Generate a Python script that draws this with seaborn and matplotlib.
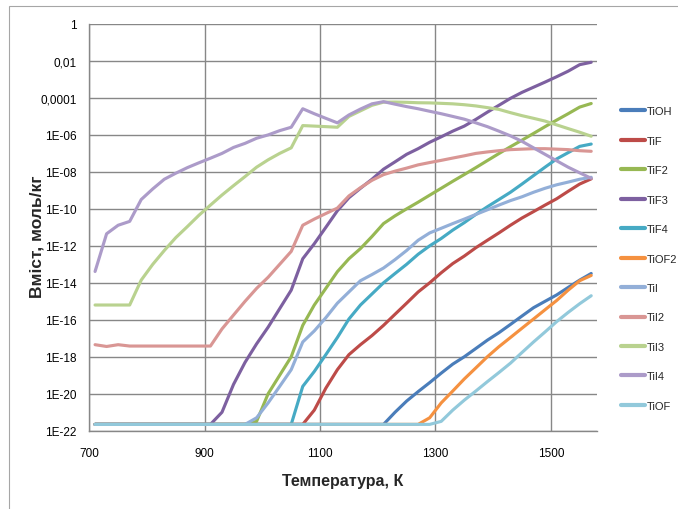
"""
Вміст титанових сполук у газовій фазі залежно від температури
"""

import numpy as np
import pandas as pd
import matplotlib
matplotlib.use('Agg')
import matplotlib.pyplot as plt
from matplotlib.ticker import FixedLocator, FuncFormatter
from matplotlib.patches import Rectangle
from matplotlib.lines import Line2D
import seaborn as sns

# Дані (моль/кг)
temperature = [710, 730, 750, 770, 790, 810, 830, 850, 870, 890,
               910, 930, 950, 970, 990, 1010, 1030, 1050, 1070, 1090,
               1110, 1130, 1150, 1170, 1190, 1210, 1230, 1250, 1270, 1290,
               1310, 1330, 1350, 1370, 1390, 1410, 1430, 1450, 1470, 1490,
               1510, 1530, 1550, 1570]

ti_oh = [2.2e-22, 2.2e-22, 2.2e-22, 2.2e-22, 2.2e-22, 2.2e-22, 2.2e-22, 2.2e-22, 2.2e-22, 2.2e-22,
         2.2e-22, 2.2e-22, 2.2e-22, 2.2e-22, 2.2e-22, 2.2e-22, 2.2e-22, 2.2e-22, 2.2e-22, 2.2e-22,
         2.2e-22, 2.2e-22, 2.2e-22, 2.2e-22, 2.2e-22, 2.2e-22, 1.0e-21, 4.0e-21, 1.3e-20, 4.0e-20,
         1.3e-19, 4.0e-19, 1.0e-18, 2.8e-18, 7.9e-18, 2.0e-17, 5.6e-17, 1.6e-16, 4.5e-16, 1.0e-15,
         2.2e-15, 5.6e-15, 1.4e-14, 3.2e-14]
ti_f = [2.2e-22, 2.2e-22, 2.2e-22, 2.2e-22, 2.2e-22, 2.2e-22, 2.2e-22, 2.2e-22, 2.2e-22, 2.2e-22,
        2.2e-22, 2.2e-22, 2.2e-22, 2.2e-22, 2.2e-22, 2.2e-22, 2.2e-22, 2.2e-22, 2.2e-22, 1.3e-21,
        2.0e-20, 2.0e-19, 1.3e-18, 4.5e-18, 1.4e-17, 5.0e-17, 2.0e-16, 7.9e-16, 3.2e-15, 1.0e-14,
        3.5e-14, 1.1e-13, 2.8e-13, 7.9e-13, 2.0e-12, 5.0e-12, 1.3e-11, 3.2e-11, 7.1e-11, 1.6e-10,
        3.5e-10, 8.9e-10, 2.2e-9, 4.2e-9]
ti_f2 = [2.2e-22, 2.2e-22, 2.2e-22, 2.2e-22, 2.2e-22, 2.2e-22, 2.2e-22, 2.2e-22, 2.2e-22, 2.2e-22,
         2.2e-22, 2.2e-22, 2.2e-22, 2.2e-22, 3.2e-22, 1.0e-20, 1.0e-19, 1.0e-18, 5.0e-17, 6.3e-16,
         5.0e-15, 4.0e-14, 2.0e-13, 7.1e-13, 3.2e-12, 1.6e-11, 4.2e-11, 1.0e-10, 2.3e-10, 5.5e-10,
         1.3e-9, 3.1e-9, 7.2e-9, 1.7e-8, 4.1e-8, 9.8e-8, 2.3e-7, 5.2e-7, 1.2e-6, 2.8e-6,
         6.3e-6, 1.4e-5, 3.2e-5, 5.0e-5]
ti_f3 = [2.2e-22, 2.2e-22, 2.2e-22, 2.2e-22, 2.2e-22, 2.2e-22, 2.2e-22, 2.2e-22, 2.2e-22, 2.2e-22,
         2.2e-22, 1.0e-21, 3.2e-20, 5.0e-19, 5.0e-18, 4.0e-17, 4.0e-16, 4.0e-15, 2.0e-13, 1.3e-12,
         1.0e-11, 7.9e-11, 4.0e-10, 1.3e-9, 4.0e-9, 1.4e-8, 3.5e-8, 8.9e-8, 1.8e-7, 4.0e-7,
         7.9e-7, 1.6e-6, 3.0e-6, 6.9e-6, 1.7e-5, 4.0e-5, 9.5e-5, 2.0e-4, 3.8e-4, 7.2e-4,
         1.4e-3, 2.8e-3, 6.3e-3, 8.5e-3]
ti_f4 = [2.2e-22, 2.2e-22, 2.2e-22, 2.2e-22, 2.2e-22, 2.2e-22, 2.2e-22, 2.2e-22, 2.2e-22, 2.2e-22,
         2.2e-22, 2.2e-22, 2.2e-22, 2.2e-22, 2.2e-22, 2.2e-22, 2.2e-22, 2.2e-22, 2.5e-20, 1.6e-19,
         1.3e-18, 1.1e-17, 1.1e-16, 6.3e-16, 2.5e-15, 1.0e-14, 3.2e-14, 1.0e-13, 3.5e-13, 1.0e-12,
         2.5e-12, 7.1e-12, 1.8e-11, 5.0e-11, 1.3e-10, 3.2e-10, 7.9e-10, 2.2e-9, 6.3e-9, 1.8e-8,
         5.0e-8, 1.1e-7, 2.4e-7, 3.2e-7]
ti_of2 = [2.2e-22, 2.2e-22, 2.2e-22, 2.2e-22, 2.2e-22, 2.2e-22, 2.2e-22, 2.2e-22, 2.2e-22, 2.2e-22,
          2.2e-22, 2.2e-22, 2.2e-22, 2.2e-22, 2.2e-22, 2.2e-22, 2.2e-22, 2.2e-22, 2.2e-22, 2.2e-22,
          2.2e-22, 2.2e-22, 2.2e-22, 2.2e-22, 2.2e-22, 2.2e-22, 2.2e-22, 2.2e-22, 2.2e-22, 5.0e-22,
          3.2e-21, 1.4e-20, 6.3e-20, 2.5e-19, 1.0e-18, 3.5e-18, 1.1e-17, 3.5e-17, 1.1e-16, 3.5e-16,
          1.1e-15, 4.0e-15, 1.3e-14, 2.5e-14]
ti_i = [2.2e-22, 2.2e-22, 2.2e-22, 2.2e-22, 2.2e-22, 2.2e-22, 2.2e-22, 2.2e-22, 2.2e-22, 2.2e-22,
        2.2e-22, 2.2e-22, 2.2e-22, 2.2e-22, 5.0e-22, 3.2e-21, 2.5e-20, 2.0e-19, 6.3e-18, 2.5e-17,
        1.3e-16, 7.9e-16, 3.2e-15, 1.3e-14, 2.8e-14, 6.3e-14, 1.8e-13, 5.6e-13, 2.0e-12, 5.0e-12,
        8.9e-12, 1.6e-11, 2.8e-11, 5.0e-11, 8.9e-11, 1.6e-10, 2.8e-10, 4.5e-10, 7.9e-10, 1.3e-9,
        2.0e-9, 2.8e-9, 4.0e-9, 5.1e-9]
ti_i2 = [4.5e-18, 3.6e-18, 4.5e-18, 3.8e-18, 3.8e-18, 3.8e-18, 3.8e-18, 3.8e-18, 3.8e-18, 3.8e-18,
         3.8e-18, 3.2e-17, 1.8e-16, 1.0e-15, 5.0e-15, 2.0e-14, 1.0e-13, 5.0e-13, 1.3e-11, 2.8e-11,
         5.6e-11, 1.1e-10, 5.0e-10, 1.4e-9, 3.5e-9, 7.1e-9, 1.1e-8, 1.6e-8, 2.4e-8, 3.2e-8,
         4.2e-8, 5.6e-8, 7.4e-8, 1.0e-7, 1.2e-7, 1.4e-7, 1.6e-7, 1.7e-7, 1.8e-7, 1.8e-7,
         1.7e-7, 1.6e-7, 1.4e-7, 1.3e-7]
ti_i3 = [6.3e-16, 6.3e-16, 6.3e-16, 6.3e-16, 1.4e-14, 1.0e-13, 5.6e-13, 2.8e-12, 1.1e-11, 4.5e-11,
         1.6e-10, 5.6e-10, 1.8e-9, 5.6e-9, 1.8e-8, 4.5e-8, 1.0e-7, 2.0e-7, 3.2e-6, 3.0e-6,
         2.8e-6, 2.6e-6, 1.0e-5, 2.0e-5, 4.0e-5, 5.9e-5, 6.0e-5, 5.8e-5, 5.5e-5, 5.4e-5,
         5.1e-5, 4.8e-5, 4.3e-5, 3.7e-5, 3.0e-5, 2.4e-5, 1.6e-5, 1.1e-5, 7.9e-6, 5.6e-6,
         3.5e-6, 2.2e-6, 1.4e-6, 8.5e-7]
ti_i4 = [4.1e-14, 4.5e-12, 1.3e-11, 2.1e-11, 3.2e-10, 1.2e-9, 4.0e-9, 8.5e-9, 1.7e-8, 3.1e-8,
         5.5e-8, 1.0e-7, 2.1e-7, 3.5e-7, 6.6e-7, 1.0e-6, 1.7e-6, 2.6e-6, 2.6e-5, 1.4e-5,
         7.9e-6, 4.5e-6, 1.2e-5, 2.5e-5, 4.8e-5, 6.3e-5, 4.6e-5, 3.4e-5, 2.6e-5, 1.9e-5,
         1.4e-5, 1.0e-5, 7.1e-6, 4.5e-6, 2.8e-6, 1.6e-6, 8.9e-7, 4.5e-7, 2.0e-7, 8.9e-8,
         4.0e-8, 1.8e-8, 8.9e-9, 4.5e-9]
ti_of = [2.2e-22, 2.2e-22, 2.2e-22, 2.2e-22, 2.2e-22, 2.2e-22, 2.2e-22, 2.2e-22, 2.2e-22, 2.2e-22,
         2.2e-22, 2.2e-22, 2.2e-22, 2.2e-22, 2.2e-22, 2.2e-22, 2.2e-22, 2.2e-22, 2.2e-22, 2.2e-22,
         2.2e-22, 2.2e-22, 2.2e-22, 2.2e-22, 2.2e-22, 2.2e-22, 2.2e-22, 2.2e-22, 2.2e-22, 2.2e-22,
         3.2e-22, 1.3e-21, 4.5e-21, 1.4e-20, 4.5e-20, 1.4e-19, 4.5e-19, 1.7e-18, 6.3e-18, 2.2e-17,
         7.9e-17, 2.5e-16, 7.4e-16, 2.0e-15]

species = ['TiOH', 'TiF', 'TiF2', 'TiF3', 'TiF4', 'TiOF2', 'TiI', 'TiI2', 'TiI3', 'TiI4', 'TiOF']
colors = ['#4A7DBA', '#BD4B48', '#97B853', '#7D60A0', '#46AAC4', '#F59140',
          '#93AFD8', '#D99694', '#B9D28F', '#AC9BC9', '#92C9DB']

# таблиця у довгому форматі для seaborn
wide = pd.DataFrame({'T': temperature, 'TiOH': ti_oh, 'TiF': ti_f, 'TiF2': ti_f2,
                     'TiF3': ti_f3, 'TiF4': ti_f4, 'TiOF2': ti_of2, 'TiI': ti_i,
                     'TiI2': ti_i2, 'TiI3': ti_i3, 'TiI4': ti_i4, 'TiOF': ti_of})
df = wide.melt(id_vars='T', var_name='species', value_name='content')

sns.set_style('white')
plt.rcParams['font.family'] = ['Liberation Sans', 'DejaVu Sans']

fig = plt.figure(figsize=(6.78, 5.10), dpi=100)
ax = fig.add_axes([0.1317, 0.1535, 0.7488, 0.7975])
ax.set_yscale('log')

sns.lineplot(data=df, x='T', y='content', hue='species', hue_order=species,
             palette=colors, linewidth=2.25, errorbar=None, legend=False, ax=ax)

# осі
ax.set_xlim(700, 1580)
ax.set_ylim(1e-22, 1)
ax.xaxis.set_major_locator(FixedLocator([700, 900, 1100, 1300, 1500]))
ax.yaxis.set_major_locator(FixedLocator([10.0 ** -k for k in range(0, 23, 2)]))
ax.yaxis.set_minor_locator(FixedLocator([]))


def excel_fmt(v, pos):
    e = int(round(np.log10(v)))
    if e == 0:
        return '1'
    if e >= -4:
        return ('%.*f' % (-e, v)).replace('.', ',')
    return '1E-%02d' % (-e)


ax.yaxis.set_major_formatter(FuncFormatter(excel_fmt))
ax.grid(True, color='#878787', linewidth=1.0)
ax.set_axisbelow(True)
for side in ['top', 'right']:
    ax.spines[side].set_visible(False)
for side in ['left', 'bottom']:
    ax.spines[side].set_color('#878787')
    ax.spines[side].set_linewidth(1.0)
ax.tick_params(axis='both', direction='out', length=4, width=1.0, color='#878787',
               labelsize=8.5, labelcolor='black')
ax.tick_params(axis='x', pad=8)
ax.tick_params(axis='y', pad=5)

ax.set_xlabel('Температура, К', fontsize=11.5, fontweight='bold')
ax.set_ylabel('Вміст, моль/кг', fontsize=12.5, fontweight='bold')
ax.xaxis.set_label_coords(0.5, -0.105)
ax.yaxis.set_label_coords(-0.088, 0.48)

# легенда
handles = [Line2D([], [], color=c, linewidth=3) for c in colors]
fig.legend(handles, species, loc='center left', bbox_to_anchor=(0.9155, 0.491),
           frameon=False, fontsize=8, handlelength=2.2, handletextpad=0.15,
           labelspacing=1.75, borderpad=0, borderaxespad=0)

# рамка діаграми
fig.patches.append(Rectangle((9.3 / 678, -0.2), 1.5, 0.9857 + 0.2, transform=fig.transFigure,
                             fill=False, edgecolor='#A6A6A6', linewidth=0.8))

plt.savefig('out.png', dpi=100)
plt.close()
